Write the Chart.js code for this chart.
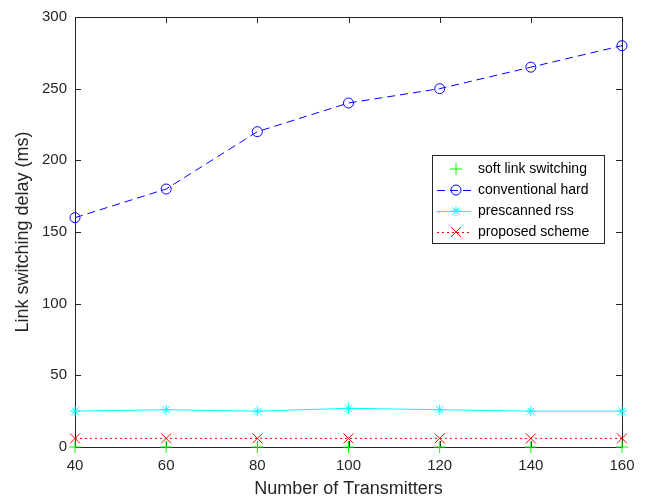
<!DOCTYPE html>
<html>
<head>
<meta charset="utf-8">
<script src="https://cdn.jsdelivr.net/npm/chart.js@4.4.0/dist/chart.umd.min.js"></script>
<style>
  html, body { margin: 0; padding: 0; background: #fff; }
  #wrap { width: 646px; height: 500px; }
</style>
</head>
<body>
<div id="wrap"><canvas id="delayChart" width="646" height="500"></canvas></div>
<script>
// values
const transmitters = [40, 60, 80, 100, 120, 140, 160];
const softLink = [0, 0, 0, 0, 0, 0, 0];
const conventionalHard = [160, 180, 220, 240, 250, 265, 280];
const prescannedRss = [25, 26, 25, 27, 26, 25, 25];
const proposedScheme = [6, 6, 6, 6, 6, 6, 6];
const yTicks = [0, 50, 100, 150, 200, 250, 300];
const xTicks = [40, 60, 80, 100, 120, 140, 160];

const AXIS_COLOR = '#262626';
const FONT = 'Arial, "Liberation Sans", Helvetica, sans-serif';

const toPoints = ys => transmitters.map((x, i) => ({ x: x, y: ys[i] }));

// box + inward ticks like matlab
const axesBox = {
    id: 'axesBox',
    beforeDatasetsDraw(chart) {
        const { ctx, chartArea: a, scales } = chart;
        const len = 6;
        ctx.save();
        ctx.strokeStyle = AXIS_COLOR;
        ctx.lineWidth = 1;
        ctx.strokeRect(Math.round(a.left) + 0.5, Math.round(a.top) + 0.5,
            Math.round(a.right - a.left), Math.round(a.bottom - a.top));
        ctx.beginPath();
        xTicks.forEach(v => {
            const px = Math.round(scales.x.getPixelForValue(v)) + 0.5;
            ctx.moveTo(px, a.bottom); ctx.lineTo(px, a.bottom - len);
            ctx.moveTo(px, a.top); ctx.lineTo(px, a.top + len);
        });
        yTicks.forEach(v => {
            const py = Math.round(scales.y.getPixelForValue(v)) + 0.5;
            ctx.moveTo(a.left, py); ctx.lineTo(a.left + len, py);
            ctx.moveTo(a.right, py); ctx.lineTo(a.right - len, py);
        });
        ctx.stroke();
        ctx.restore();
    }
};

// legend box inside the axes
const insideLegend = {
    id: 'insideLegend',
    afterDraw(chart) {
        const { ctx } = chart;
        const box = { x: 432.5, y: 155.5, w: 172, h: 88 };
        ctx.save();
        ctx.fillStyle = '#fff';
        ctx.fillRect(box.x, box.y, box.w, box.h);
        ctx.strokeStyle = AXIS_COLOR;
        ctx.lineWidth = 1;
        ctx.strokeRect(box.x, box.y, box.w, box.h);
        ctx.font = '14px ' + FONT;
        ctx.textBaseline = 'middle';
        chart.data.datasets.forEach((ds, i) => {
            const y = 169 + i * 21;
            if (ds.showLine !== false) {
                ctx.save();
                ctx.strokeStyle = ds.borderColor;
                ctx.lineWidth = ds.borderWidth;
                ctx.setLineDash(ds.borderDash || []);
                ctx.beginPath();
                ctx.moveTo(437, y + 0.5);
                ctx.lineTo(471, y + 0.5);
                ctx.stroke();
                ctx.restore();
            }
            ctx.save();
            ctx.strokeStyle = ds.pointBorderColor;
            ctx.fillStyle = 'rgba(0,0,0,0)';
            ctx.lineWidth = 1;
            ctx.setLineDash([]);
            Chart.helpers.drawPoint(ctx, {
                pointStyle: ds.pointStyle,
                radius: ds.pointRadius,
                borderWidth: 1,
                rotation: 0
            }, 456, y);
            ctx.restore();
            ctx.fillStyle = '#000';
            ctx.fillText(ds.label, 478, y);
        });
        ctx.restore();
    }
};

function seriesStyle(color) {
    return {
        borderColor: color,
        backgroundColor: color,
        pointBorderColor: color,
        pointBackgroundColor: 'rgba(0,0,0,0)',
        borderWidth: 1,
        pointBorderWidth: 1,
        tension: 0,
        clip: false
    };
}

new Chart(document.getElementById('delayChart'), {
    type: 'line',
    data: {
        datasets: [
            Object.assign(seriesStyle('#00ff00'), {
                label: 'soft link switching',
                data: toPoints(softLink),
                pointStyle: 'cross',
                pointRadius: 6,
                showLine: false
            }),
            Object.assign(seriesStyle('#0000ff'), {
                label: 'conventional hard',
                data: toPoints(conventionalHard),
                pointStyle: 'circle',
                pointRadius: 5,
                borderDash: [8, 5]
            }),
            Object.assign(seriesStyle('#00ffff'), {
                label: 'prescanned rss',
                data: toPoints(prescannedRss),
                pointStyle: 'star',
                pointRadius: 5
            }),
            Object.assign(seriesStyle('#ff0000'), {
                label: 'proposed scheme',
                data: toPoints(proposedScheme),
                pointStyle: 'crossRot',
                pointRadius: 7,
                borderDash: [2, 3]
            })
        ]
    },
    options: {
        responsive: false,
        animation: false,
        events: [],
        layout: { padding: { top: 14, right: 24, left: 0, bottom: 0 } },
        plugins: {
            legend: { display: false },
            tooltip: { enabled: false }
        },
        scales: {
            x: {
                type: 'linear',
                min: 40,
                max: 160,
                afterBuildTicks: s => { s.ticks = xTicks.map(v => ({ value: v })); },
                afterFit: s => { s.height = 53; },
                grid: { display: false, drawTicks: false },
                border: { display: false },
                ticks: {
                    color: AXIS_COLOR,
                    font: { family: FONT, size: 15 },
                    padding: 10,
                    maxRotation: 0
                },
                title: {
                    display: true,
                    text: 'Number of Transmitters',
                    color: AXIS_COLOR,
                    font: { family: FONT, size: 18 },
                    padding: { top: 0, bottom: 0 }
                }
            },
            y: {
                min: 0,
                max: 300,
                afterBuildTicks: s => { s.ticks = yTicks.map(v => ({ value: v })); },
                afterFit: s => { s.width = 75; },
                grid: { display: false, drawTicks: false },
                border: { display: false },
                ticks: {
                    color: AXIS_COLOR,
                    font: { family: FONT, size: 15 },
                    padding: 8
                },
                title: {
                    display: true,
                    text: 'Link switching delay (ms)',
                    color: AXIS_COLOR,
                    font: { family: FONT, size: 18 },
                    padding: { top: 12, bottom: 0 }
                }
            }
        }
    },
    plugins: [axesBox, insideLegend]
});
</script>
</body>
</html>
